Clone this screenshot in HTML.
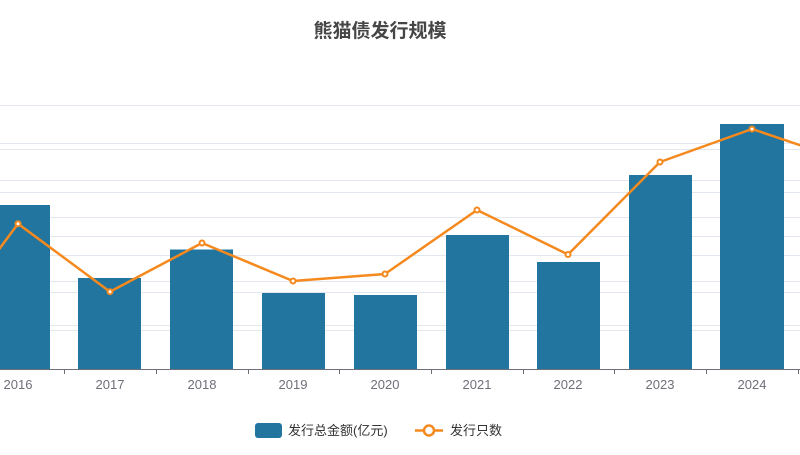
<!DOCTYPE html>
<html><head><meta charset="utf-8"><style>
body{margin:0;background:#fff;width:800px;height:450px;overflow:hidden}
svg text{font-family:"Liberation Sans","Noto Sans CJK SC",sans-serif}
</style></head><body>
<svg width="800" height="450" xmlns="http://www.w3.org/2000/svg">
<text x="380" y="37" text-anchor="middle" font-size="19" font-weight="bold" fill="#464646">熊猫债发行规模</text>
<g stroke="#e3e7f0" stroke-width="1">
<line x1="0" x2="800" y1="105.5" y2="105.5"/><line x1="0" x2="800" y1="143.5" y2="143.5"/>
<line x1="0" x2="800" y1="180.5" y2="180.5"/><line x1="0" x2="800" y1="217.5" y2="217.5"/>
<line x1="0" x2="800" y1="255.5" y2="255.5"/><line x1="0" x2="800" y1="292.5" y2="292.5"/>
<line x1="0" x2="800" y1="330.5" y2="330.5"/>
<line x1="0" x2="800" y1="149.5" y2="149.5"/><line x1="0" x2="800" y1="192.5" y2="192.5"/>
<line x1="0" x2="800" y1="236.5" y2="236.5"/><line x1="0" x2="800" y1="281.5" y2="281.5"/>
<line x1="0" x2="800" y1="325.5" y2="325.5"/>
</g>
<g fill="#21759f">
<rect x="-20" y="205" width="70" height="164"/>
<rect x="78" y="278" width="63" height="91"/>
<rect x="170" y="249.5" width="63" height="119.5"/>
<rect x="262" y="293" width="63" height="76"/>
<rect x="354" y="295" width="63" height="74"/>
<rect x="446" y="235" width="63" height="134"/>
<rect x="537" y="262" width="63" height="107"/>
<rect x="629" y="175" width="63" height="194"/>
<rect x="720" y="124" width="64" height="245"/>
</g>
<line x1="0" x2="800" y1="369.5" y2="369.5" stroke="#6e7079"/>
<g stroke="#6e7079"><line x1="64.5" x2="64.5" y1="369" y2="374"/><line x1="156.5" x2="156.5" y1="369" y2="374"/><line x1="248.5" x2="248.5" y1="369" y2="374"/><line x1="339.5" x2="339.5" y1="369" y2="374"/><line x1="431.5" x2="431.5" y1="369" y2="374"/><line x1="523.5" x2="523.5" y1="369" y2="374"/><line x1="614.5" x2="614.5" y1="369" y2="374"/><line x1="706.5" x2="706.5" y1="369" y2="374"/><line x1="798.5" x2="798.5" y1="369" y2="374"/></g>
<g font-size="13" fill="#6e7079" text-anchor="middle">
<text x="18" y="389">2016</text><text x="110" y="389">2017</text><text x="202" y="389">2018</text><text x="293" y="389">2019</text><text x="385" y="389">2020</text><text x="477" y="389">2021</text><text x="568" y="389">2022</text><text x="660" y="389">2023</text><text x="752" y="389">2024</text>
</g>
<polyline fill="none" stroke="#f5891e" stroke-width="2.5" stroke-linejoin="round" points="-74,348 18,223.7 110,291.7 202,243 293,281 385,274 477,210 568,254.5 660,162 752,129 844,160"/>
<g fill="#fff" stroke="#f5891e" stroke-width="2">
<circle cx="18" cy="223.7" r="2.5"/><circle cx="110" cy="291.7" r="2.5"/><circle cx="202" cy="243" r="2.5"/><circle cx="293" cy="281" r="2.5"/><circle cx="385" cy="274" r="2.5"/><circle cx="477" cy="210" r="2.5"/><circle cx="568" cy="254.5" r="2.5"/><circle cx="660" cy="162" r="2.5"/><circle cx="752" cy="129" r="2.5"/>
</g>
<rect x="255" y="423" width="27" height="15" rx="3" fill="#21759f"/>
<text x="288" y="435" font-size="13" fill="#333">发行总金额(亿元)</text>
<line x1="415" x2="443" y1="430.5" y2="430.5" stroke="#f5891e" stroke-width="2.5"/>
<circle cx="429" cy="430.5" r="5" fill="#fff" stroke="#f5891e" stroke-width="2.5"/>
<text x="450" y="435" font-size="13" fill="#333">发行只数</text>
</svg>
</body></html>
